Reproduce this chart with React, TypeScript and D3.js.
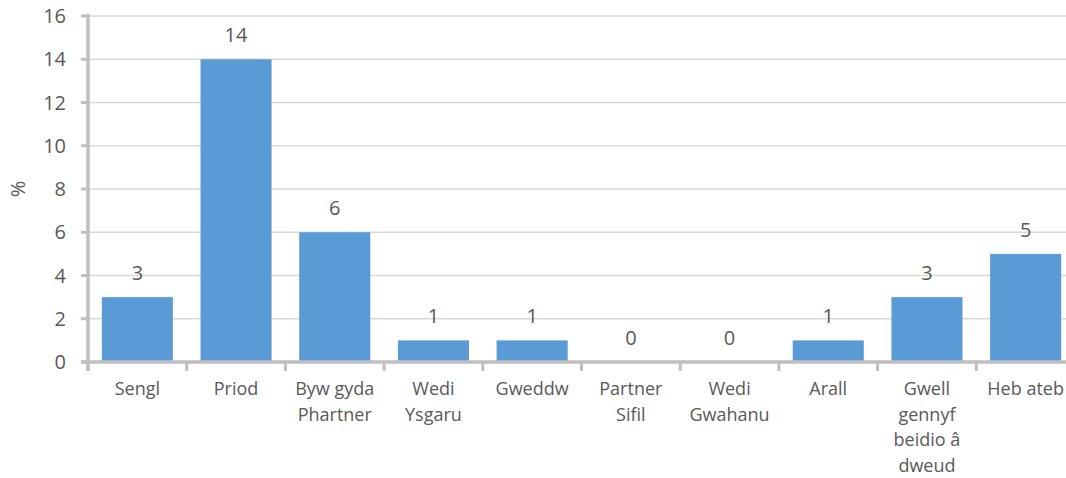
import React from 'react';
import * as d3 from 'd3';

const categories = [
	['Sengl'],
	['Priod'],
	['Byw gyda', 'Phartner'],
	['Wedi', 'Ysgaru'],
	['Gweddw'],
	['Partner', 'Sifil'],
	['Wedi', 'Gwahanu'],
	['Arall'],
	['Gwell', 'gennyf', 'beidio â', 'dweud'],
	['Heb ateb'],
];
const values = [3, 14, 6, 1, 1, 0, 0, 1, 3, 5];
const yTicks = [0, 2, 4, 6, 8, 10, 12, 14, 16];

const W = 1066;
const H = 478;
const font = "'Open Sans', sans-serif";
const textColor = '#595959';

const App = () => {
	const keys = categories.map((c, i) => String(i));
	const x = d3.scaleBand().domain(keys).range([88, 1075]).paddingInner(0.28).paddingOuter(0.14);
	const y = d3.scaleLinear().domain([0, 16]).range([362, 16]);
	const step = x.step();

	return (
		<svg width={W} height={H} style={{ position: 'absolute', left: 0, top: 0, background: '#fff' }}>
			{/* gridlines */}
			{yTicks.slice(1).map(t => (
				<line key={t} x1={88} x2={W} y1={y(t)} y2={y(t)} stroke='#D9D9D9' strokeWidth={1.5} />
			))}
			{/* bars */}
			{values.map((v, i) => (
				<rect key={i} x={x(keys[i])} y={y(v)} width={x.bandwidth()} height={y(0) - y(v)} fill='#5B9BD5' />
			))}
			{/* value labels */}
			{values.map((v, i) => (
				<text key={i} x={x(keys[i])! + x.bandwidth() / 2} y={y(v) - 17} textAnchor='middle'
					fontFamily={font} fontSize={20} fill={textColor}>{v}</text>
			))}
			{/* y axis */}
			<line x1={88} x2={88} y1={y(16) - 2} y2={y(0) + 9} stroke='#BFBFBF' strokeWidth={3.5} />
			{yTicks.map(t => (
				<g key={t}>
					<line x1={81} x2={88} y1={y(t)} y2={y(t)} stroke='#BFBFBF' strokeWidth={3} />
					<text x={66} y={y(t)} dy='0.36em' textAnchor='end' fontFamily={font} fontSize={20} fill={textColor}>{t}</text>
				</g>
			))}
			{/* x axis */}
			<line x1={81} x2={W} y1={y(0)} y2={y(0)} stroke='#BFBFBF' strokeWidth={3.5} />
			{keys.map((k, i) => (
				<line key={k} x1={x(k)! - step * 0.14} x2={x(k)! - step * 0.14} y1={y(0)} y2={y(0) + 9} stroke='#BFBFBF' strokeWidth={3} />
			))}
			{categories.map((lines, i) => (
				<text key={i} x={x(keys[i])! + x.bandwidth() / 2} y={395} textAnchor='middle'
					fontFamily={font} fontSize={18} fill={textColor}>
					{lines.map((l, j) => (
						<tspan key={j} x={x(keys[i])! + x.bandwidth() / 2} dy={j === 0 ? 0 : 25.5}>{l}</tspan>
					))}
				</text>
			))}
			<text transform={`translate(25 ${y(8)}) rotate(-90)`} textAnchor='middle' fontFamily={font} fontSize={20} fill={textColor}>%</text>
		</svg>
	);
};

export default App;
